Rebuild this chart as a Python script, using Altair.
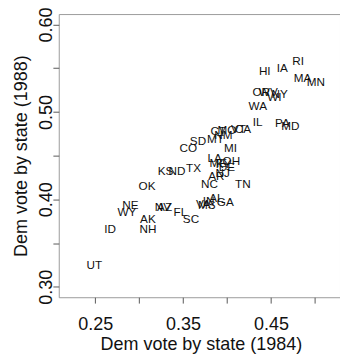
import altair as alt
import pandas as pd

states = ["AL","AK","AZ","AR","CA","CO","CT","DE","FL","GA","HI","ID","IL","IN","IA",
          "KS","KY","LA","ME","MD","MA","MI","MN","MS","MO","MT","NE","NV","NH","NJ",
          "NM","NY","NC","ND","OH","OK","OR","PA","RI","SC","SD","TN","TX","UT","VT",
          "VA","WA","WV","WI","WY"]
dem1984 = [0.388,0.310,0.329,0.388,0.418,0.356,0.390,0.400,0.347,0.398,0.443,0.267,0.435,0.379,0.463,
           0.330,0.396,0.386,0.390,0.472,0.486,0.404,0.501,0.377,0.400,0.387,0.290,0.327,0.310,0.395,
           0.396,0.460,0.380,0.343,0.405,0.309,0.439,0.463,0.481,0.359,0.367,0.418,0.362,0.249,0.413,
           0.373,0.435,0.447,0.454,0.286]
dem1988 = [0.403,0.379,0.392,0.428,0.482,0.460,0.479,0.438,0.387,0.398,0.548,0.367,0.489,0.399,0.551,
           0.433,0.442,0.448,0.443,0.485,0.540,0.460,0.535,0.395,0.480,0.470,0.394,0.392,0.367,0.431,
           0.475,0.521,0.418,0.434,0.445,0.416,0.524,0.488,0.559,0.379,0.468,0.418,0.437,0.326,0.482,
           0.396,0.508,0.524,0.518,0.386]

x_ticks = [0.25, 0.30, 0.35, 0.40, 0.45, 0.50]
y_ticks = [0.30, 0.35, 0.40, 0.45, 0.50, 0.55, 0.60]
x_labels = ["0.25", "0.35", "0.45"]
y_labels = ["0.30", "0.40", "0.50", "0.60"]

df = pd.DataFrame({"state": states, "d84": dem1984, "d88": dem1988})

FONT = "Liberation Sans"

x_expr = "indexof(" + str(x_labels) + ", format(datum.value, '.2f')) >= 0 ? format(datum.value, '.2f') : ''"
y_expr = "indexof(" + str(y_labels) + ", format(datum.value, '.2f')) >= 0 ? format(datum.value, '.2f') : ''"

chart = alt.Chart(df).mark_text(font=FONT, fontSize=12, color="#111111",
                                align="center", baseline="middle", dy=1).encode(
    x=alt.X("d84:Q",
            scale=alt.Scale(domain=[0.2086, 0.5286], nice=False, zero=False),
            axis=alt.Axis(values=x_ticks, labelExpr=x_expr, title="Dem vote by state (1984)",
                          grid=False, domain=False, tickSize=6, tickColor="#555555",
                          labelFont=FONT, labelFontSize=18.4, labelColor="#111111",
                          labelPadding=12, labelBaseline="top",
                          titleFont=FONT, titleFontSize=18.4, titleFontWeight="normal",
                          titleColor="#111111", titleX=145.5, titleY=54,
                          titleBaseline="alphabetic", titleAlign="center")),
    y=alt.Y("d88:Q",
            scale=alt.Scale(domain=[0.288, 0.612], nice=False, zero=False),
            axis=alt.Axis(values=y_ticks, labelExpr=y_expr, title="Dem vote by state (1988)",
                          grid=False, domain=False, tickSize=6, tickColor="#555555",
                          labelFont=FONT, labelFontSize=18.4, labelColor="#111111",
                          labelAngle=-90, labelAlign="center", labelBaseline="alphabetic",
                          labelPadding=1,
                          titleFont=FONT, titleFontSize=18.4, titleFontWeight="normal",
                          titleColor="#111111", titleX=-33, titleY=145, titleAngle=-90,
                          titleBaseline="alphabetic", titleAlign="center")),
    text="state:N",
).properties(
    width=288, height=290,
    autosize=alt.AutoSizeParams(type="none"),
    padding={"left": 52, "top": 2, "right": 0, "bottom": 57},
).configure_view(stroke="#999999", strokeWidth=1)

chart.save("out.html", embed_options={"renderer": "svg", "actions": False})
